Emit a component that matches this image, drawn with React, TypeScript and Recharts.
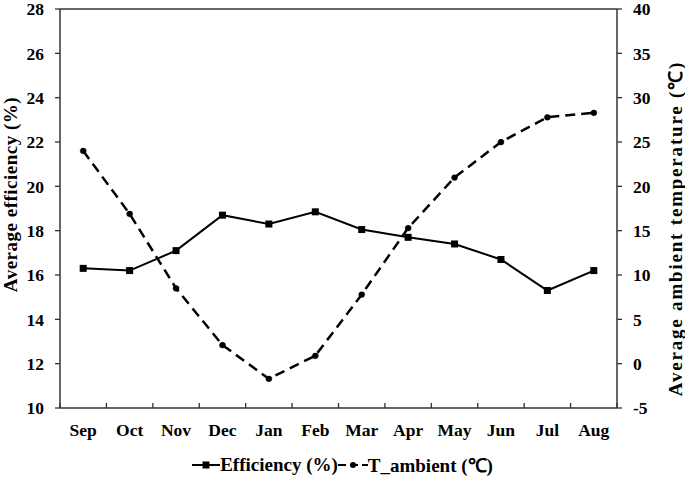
import React from 'react'
import { LineChart, Line, XAxis, YAxis, ReferenceLine, Legend } from 'recharts'

const months = ['Sep', 'Oct', 'Nov', 'Dec', 'Jan', 'Feb', 'Mar', 'Apr', 'May', 'Jun', 'Jul', 'Aug']
const efficiency = [16.3, 16.2, 17.1, 18.7, 18.3, 18.85, 18.05, 17.7, 17.4, 16.7, 15.3, 16.2]
const tAmbient = [24.0, 16.9, 8.5, 2.1, -1.7, 0.9, 7.8, 15.3, 21.0, 25.0, 27.8, 28.3]
const effTicks = [10, 12, 14, 16, 18, 20, 22, 24, 26, 28]
const tempTicks = [-5, 0, 5, 10, 15, 20, 25, 30, 35, 40]

// months sit in the middle of each band, tick marks on the band edges
const data = months.map((m, i) => ({ pos: i + 0.5, month: m, eff: efficiency[i], temp: tAmbient[i] }))
const xTicks = months.flatMap((_, i) => [i, i + 0.5]).concat(months.length)

const font = "'Liberation Serif', 'Times New Roman', serif"
const axisColor = '#333'
const ink = '#000'

const MonthTick = (props: any) => {
  const { x, y, payload } = props
  const v = payload.value as number
  if (Number.isInteger(v)) {
    return <line x1={x} x2={x} y1={y} y2={y - 5} stroke={axisColor} strokeWidth={1.3} />
  }
  return (
    <text x={x} y={y + 28} textAnchor="middle" fontFamily={font} fontWeight="bold" fontSize={17.5} fill={ink}>
      {months[Math.floor(v)]}
    </text>
  )
}

const SquareDot = (props: any) => {
  const { cx, cy, index } = props
  return <rect key={`sq-${index}`} x={cx - 3.5} y={cy - 3.5} width={7} height={7} fill={ink} />
}

// rotated axis titles, placed from the axis viewBox
const AxisTitle = (props: any) => {
  const { viewBox, text, side, spacing, shift } = props
  const cx = side === 'left' ? viewBox.x + 10 : viewBox.x + viewBox.width - 10
  const cy = viewBox.y + viewBox.height / 2 + shift
  return (
    <text
      x={cx}
      y={cy}
      transform={`rotate(-90, ${cx}, ${cy})`}
      textAnchor="middle"
      dominantBaseline="central"
      fontFamily={font}
      fontWeight="bold"
      fontSize={19}
      letterSpacing={spacing}
      fill={ink}
    >
      {text}
    </text>
  )
}

const LegendBox = () => (
  <div
    style={{
      height: 35,
      display: 'flex',
      justifyContent: 'center',
      alignItems: 'center',
      fontFamily: font,
      fontWeight: 'bold',
      fontSize: 19,
      color: ink,
      paddingTop: 4,
      boxSizing: 'border-box',
    }}
  >
    <svg width={28} height={12}>
      <line x1={0} x2={28} y1={6} y2={6} stroke={ink} strokeWidth={2} />
      <rect x={10.5} y={2.5} width={7} height={7} fill={ink} />
    </svg>
    <span>Efficiency (%)</span>
    <svg width={30} height={12}>
      <line x1={0} x2={30} y1={6} y2={6} stroke={ink} strokeWidth={2} strokeDasharray="8 4" />
      <circle cx={15} cy={6} r={3} fill={ink} />
    </svg>
    <span>T_ambient (℃)</span>
  </div>
)

export default function App() {
  const tickStyle = { fontFamily: font, fontWeight: 'bold', fontSize: 17.5, fill: ink }
  return (
    <div style={{ position: 'absolute', left: 0, top: 0, background: '#fff' }}>
      <LineChart width={685} height={485} data={data} margin={{ top: 9, right: 0, bottom: 5, left: 0 }}>
        <XAxis
          dataKey="pos"
          type="number"
          domain={[0, months.length]}
          ticks={xTicks}
          interval={0}
          tickSize={0}
          tickMargin={0}
          tickLine={false}
          tick={<MonthTick />}
          height={37}
          axisLine={{ stroke: axisColor, strokeWidth: 1.5 }}
        />
        <YAxis
          yAxisId="eff"
          orientation="left"
          domain={[10, 28]}
          ticks={effTicks}
          interval={0}
          width={60}
          tickSize={5}
          tickMargin={11}
          tick={tickStyle}
          tickLine={{ stroke: axisColor, strokeWidth: 1.3 }}
          axisLine={{ stroke: axisColor, strokeWidth: 1.5 }}
          label={<AxisTitle text="Average efficiency (%)" side="left" spacing={0.5} shift={-14} />}
        />
        <YAxis
          yAxisId="temp"
          orientation="right"
          domain={[-5, 40]}
          ticks={tempTicks}
          interval={0}
          width={68}
          tickSize={5}
          tickMargin={11}
          tick={tickStyle}
          tickLine={{ stroke: axisColor, strokeWidth: 1.3 }}
          axisLine={{ stroke: axisColor, strokeWidth: 1.5 }}
          label={<AxisTitle text="Average ambient temperature (℃)" side="right" spacing={1.8} shift={20} />}
        />
        <ReferenceLine yAxisId="eff" y={28} stroke={axisColor} strokeWidth={1.5} />
        <Legend verticalAlign="bottom" height={35} content={<LegendBox />} />
        <Line
          yAxisId="eff"
          dataKey="eff"
          type="linear"
          stroke={ink}
          strokeWidth={2}
          dot={SquareDot}
          activeDot={false}
          isAnimationActive={false}
        />
        <Line
          yAxisId="temp"
          dataKey="temp"
          type="linear"
          stroke={ink}
          strokeWidth={2.5}
          strokeDasharray="10 6"
          dot={{ r: 3, fill: ink, stroke: ink, strokeWidth: 0.5 }}
          activeDot={false}
          isAnimationActive={false}
        />
      </LineChart>
    </div>
  )
}
